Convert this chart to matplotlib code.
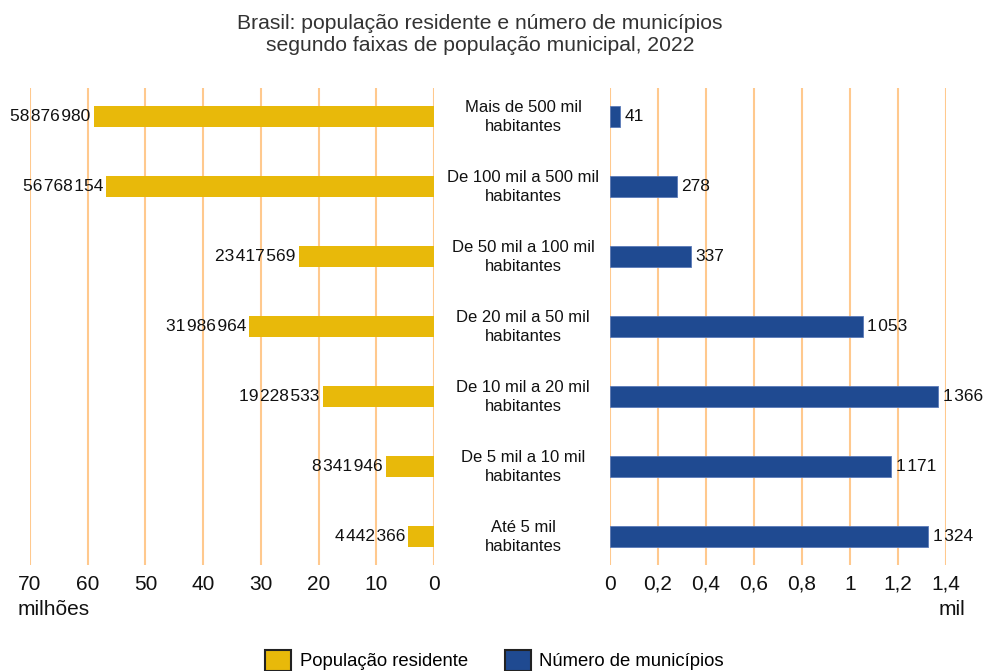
import matplotlib
matplotlib.use("Agg")
import matplotlib.pyplot as plt
from matplotlib.patches import Patch

plt.rcParams['font.family'] = ['Liberation Sans', 'DejaVu Sans']

categories = ["Mais de 500 mil\nhabitantes", "De 100 mil a 500 mil\nhabitantes",
              "De 50 mil a 100 mil\nhabitantes", "De 20 mil a 50 mil\nhabitantes",
              "De 10 mil a 20 mil\nhabitantes", "De 5 mil a 10 mil\nhabitantes",
              "Até 5 mil\nhabitantes"]
populacao = [58876980, 56768154, 23417569, 31986964, 19228533, 8341946, 4442366]
municipios = [41, 278, 337, 1053, 1366, 1171, 1324]
left_ticks = [70, 60, 50, 40, 30, 20, 10, 0]
right_ticks = [0, 0.2, 0.4, 0.6, 0.8, 1, 1.2, 1.4]

YELLOW = "#E8B90A"
BLUE = "#1F4A91"
GRID = "#FFC98E"


def fmt(n):
    return f"{n:,}".replace(",", "\u200a")


fig = plt.figure(figsize=(9.83, 6.71), dpi=100)
ax_l = fig.add_axes([0.0305, 0.158, 0.411, 0.711])
ax_r = fig.add_axes([0.6205, 0.158, 0.3418, 0.711])

y = list(range(len(categories)))
ax_l.barh(y, [p / 1e6 for p in populacao], height=0.3, color=YELLOW, zorder=3)
ax_r.barh(y, [m / 1000 for m in municipios], height=0.3, color=BLUE,
          edgecolor="#5A7AB8", linewidth=0.6, zorder=3)

ax_l.set_xlim(70, 0)
ax_r.set_xlim(0, 1.4)
for ax in (ax_l, ax_r):
    ax.set_ylim(6.4, -0.414)
    ax.set_yticks([])
    for s in ax.spines.values():
        s.set_visible(False)
    ax.grid(axis="x", color=GRID, linewidth=1.5, zorder=0)
    ax.tick_params(axis="x", length=0, pad=7, labelsize=15, labelcolor="#111111")

ax_l.set_xticks(left_ticks)
ax_l.set_xticklabels([str(t) for t in left_ticks])
ax_r.set_xticks(right_ticks)
ax_r.set_xticklabels([str(t).replace(".", ",") for t in right_ticks])

for i, p in enumerate(populacao):
    ax_l.text(p / 1e6 + 0.6, i, fmt(p), ha="right", va="center",
              fontsize=12.5, color="#111111")
for i, m in enumerate(municipios):
    ax_r.text(m / 1000 + 0.02, i, fmt(m), ha="left", va="center",
              fontsize=12.5, color="#111111")

for i, c in enumerate(categories):
    fig.text(0.532, 0.869 - (0.414 + i) / 6.814 * 0.711, c, ha="center",
             va="center", fontsize=12, linespacing=1.27, color="#111111")

fig.text(0.4885, 0.9486, "Brasil: população residente e número de municípios\n"
         "segundo faixas de população municipal, 2022", ha="center",
         va="center", fontsize=15.2, linespacing=1.15, color="#333333")

fig.text(0.018, 0.092, "milhões", ha="left", va="center", fontsize=15,
         color="#111111")
fig.text(0.982, 0.092, "mil", ha="right", va="center", fontsize=15,
         color="#111111")

handles = [Patch(facecolor=YELLOW, edgecolor="#222222", linewidth=1.5,
                 label="População residente"),
           Patch(facecolor=BLUE, edgecolor="#222222", linewidth=1.5,
                 label="Número de municípios")]
fig.legend(handles=handles, loc="center", bbox_to_anchor=(0.503, 0.016), ncol=2,
           frameon=False, fontsize=13.3, handlelength=1.4, handleheight=1.4,
           columnspacing=2.0, handletextpad=0.45, borderpad=0)

fig.savefig("out.png", dpi=100)
